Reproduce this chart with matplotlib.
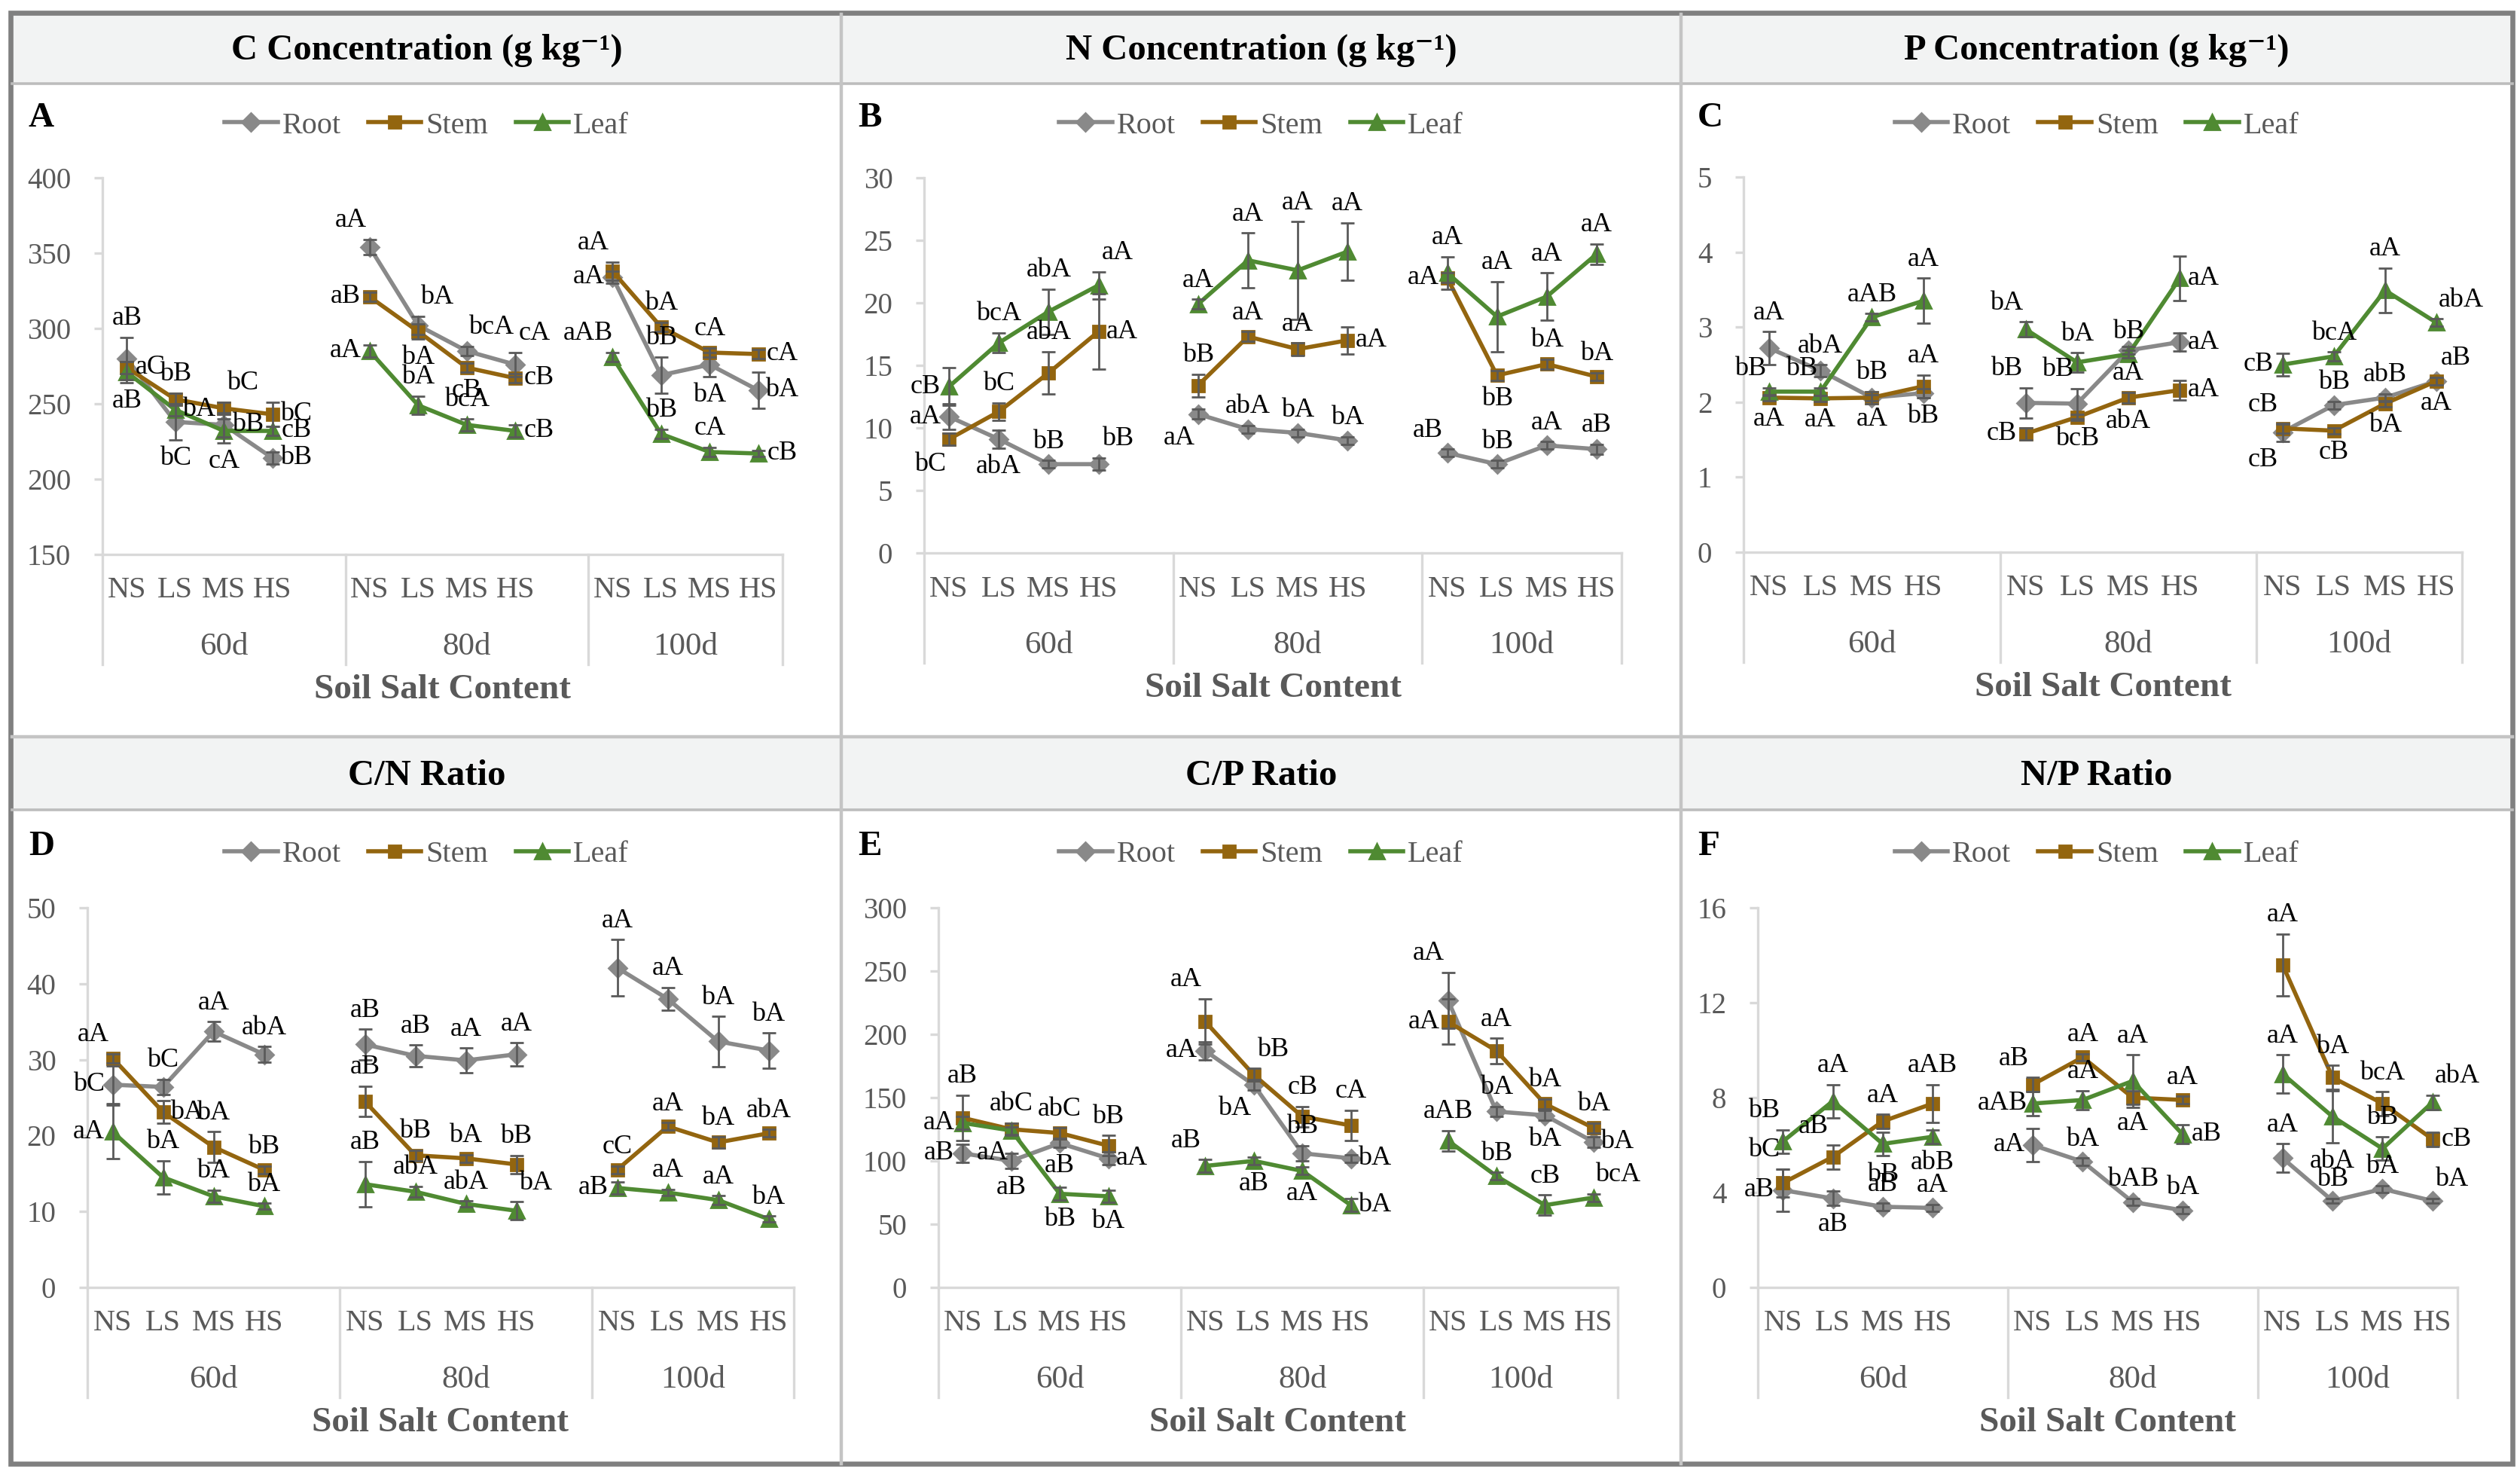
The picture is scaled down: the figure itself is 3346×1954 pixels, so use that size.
import numpy as np
import matplotlib.pyplot as plt
from matplotlib.patches import Rectangle

plt.rcParams['font.family'] = ['Liberation Serif', 'DejaVu Serif']

#########
# data  #
#########
days = ['60d', '80d', '100d']
salts = ['NS', 'LS', 'MS', 'HS']
organs = ['Root', 'Stem', 'Leaf']

# A : C concentration (g kg-1)
c_root = [280, 238, 236, 214, 354, 302, 285, 276, 334, 269, 276, 259]
c_stem = [274, 253, 247, 243, 321, 298, 274, 267, 338, 301, 284, 283]
c_leaf = [271, 246, 232, 232, 285, 249, 236, 232, 281, 230, 218, 217]
c_root_err = [14, 12, 8, 4, 5, 6, 3, 8, 4, 12, 8, 12]
c_stem_err = [4, 4, 4, 8, 3, 5, 3, 3, 6, 3, 3, 3]
c_leaf_err = [7, 4, 8, 3, 4, 6, 4, 4, 3, 3, 3, 2]
c_root_lab = ['aB', 'bC', 'bB', 'bB', 'aA', 'bA', 'bcA', 'cA', 'aA', 'bB', 'bA', 'bA']
c_stem_lab = ['aC', 'bB', 'bC', 'bC', 'aB', 'bA', 'cB', 'cB', 'aA', 'bA', 'cA', 'cA']
c_leaf_lab = ['aB', 'bA', 'cA', 'cB', 'aA', 'bA', 'bcA', 'cB', 'aAB', 'bB', 'cA', 'cB']

# B : N concentration (g kg-1)
n_root = [10.9, 9.1, 7.1, 7.1, 11.1, 9.9, 9.6, 9.0, 8.0, 7.1, 8.6, 8.3]
n_stem = [9.1, 11.3, 14.4, 17.7, 13.4, 17.3, 16.3, 17.0, 22.0, 14.2, 15.1, 14.1]
n_leaf = [13.3, 16.8, 19.3, 21.4, 19.9, 23.4, 22.6, 24.1, 22.4, 18.9, 20.5, 23.9]
n_root_err = [1.0, 0.7, 0.3, 0.5, 0.4, 0.3, 0.3, 0.3, 0.3, 0.3, 0.3, 0.4]
n_stem_err = [0.5, 0.7, 1.7, 3.0, 0.9, 0.4, 0.5, 1.1, 0.4, 0.4, 0.4, 0.3]
n_leaf_err = [1.5, 0.8, 1.8, 1.1, 0.4, 2.2, 3.9, 2.3, 1.3, 2.8, 1.9, 0.8]
n_root_lab = ['aA', 'abA', 'bB', 'bB', 'aA', 'abA', 'bA', 'bA', 'aB', 'bB', 'aA', 'aB']
n_stem_lab = ['bC', 'bC', 'abA', 'aA', 'bB', 'aA', 'aA', 'aA', 'aA', 'bB', 'bA', 'bA']
n_leaf_lab = ['cB', 'bcA', 'abA', 'aA', 'aA', 'aA', 'aA', 'aA', 'aA', 'aA', 'aA', 'aA']

# C : P concentration (g kg-1)
p_root = [2.72, 2.42, 2.06, 2.12, 1.99, 1.98, 2.69, 2.80, 1.60, 1.96, 2.06, 2.28]
p_stem = [2.06, 2.05, 2.06, 2.21, 1.58, 1.80, 2.06, 2.16, 1.65, 1.62, 1.98, 2.28]
p_leaf = [2.14, 2.14, 3.13, 3.35, 2.97, 2.53, 2.64, 3.65, 2.50, 2.61, 3.49, 3.06]
p_root_err = [0.22, 0.08, 0.08, 0.06, 0.2, 0.2, 0.05, 0.12, 0.12, 0.05, 0.05, 0.05]
p_stem_err = [0.04, 0.04, 0.04, 0.15, 0.08, 0.04, 0.07, 0.13, 0.06, 0.04, 0.04, 0.05]
p_leaf_err = [0.05, 0.05, 0.05, 0.3, 0.1, 0.13, 0.05, 0.3, 0.15, 0.06, 0.3, 0.05]
p_root_lab = ['aA', 'abA', 'bB', 'bB', 'bB', 'bB', 'aA', 'aA', 'cB', 'bB', 'abB', 'aB']
p_stem_lab = ['aA', 'aA', 'aA', 'aA', 'cB', 'bcB', 'abA', 'aA', 'cB', 'cB', 'bA', 'aA']
p_leaf_lab = ['bB', 'bB', 'aAB', 'aA', 'bA', 'bA', 'bB', 'aA', 'cB', 'bcA', 'aA', 'abA']

# D : C/N ratio
cn_root = [26.7, 26.4, 33.7, 30.7, 32.0, 30.5, 29.9, 30.7, 42.1, 38.0, 32.4, 31.2]
cn_stem = [30.2, 23.1, 18.5, 15.5, 24.5, 17.4, 17.0, 16.2, 15.5, 21.2, 19.1, 20.3]
cn_leaf = [20.5, 14.5, 12.0, 10.7, 13.6, 12.6, 11.0, 10.1, 13.1, 12.5, 11.5, 9.0]
cn_root_err = [2.5, 1.0, 1.3, 1.0, 2.0, 1.4, 1.6, 1.5, 3.7, 1.5, 3.3, 2.3]
cn_stem_err = [0.6, 1.5, 2.0, 0.5, 2.0, 0.7, 0.5, 1.2, 0.5, 0.5, 0.7, 0.5]
cn_leaf_err = [3.5, 2.2, 0.8, 0.4, 3.0, 0.7, 0.4, 1.2, 0.8, 0.4, 0.6, 0.4]
cn_root_lab = ['bC', 'bC', 'aA', 'abA', 'aB', 'aB', 'aA', 'aA', 'aA', 'aA', 'bA', 'bA']
cn_stem_lab = ['aA', 'bA', 'bA', 'bB', 'aB', 'bB', 'bA', 'bB', 'cC', 'aA', 'bA', 'abA']
cn_leaf_lab = ['aA', 'bA', 'bA', 'bA', 'aB', 'abA', 'abA', 'bA', 'aB', 'aA', 'aA', 'bA']

# E : C/P ratio
cp_root = [106, 100, 114, 102, 187, 160, 106, 102, 227, 139, 136, 115]
cp_stem = [134, 125, 122, 112, 210, 168, 135, 128, 210, 187, 145, 126]
cp_leaf = [130, 124, 74, 72, 96, 100, 92, 65, 116, 88, 65, 71]
cp_root_err = [7, 6, 3, 5, 7, 4, 6, 3, 22, 4, 4, 4]
cp_stem_err = [18, 5, 4, 8, 18, 5, 8, 12, 18, 10, 4, 4]
cp_leaf_err = [5, 3, 5, 5, 5, 3, 3, 5, 8, 3, 8, 3]
cp_root_lab = ['aB', 'aB', 'aB', 'aA', 'aA', 'bA', 'bB', 'bA', 'aA', 'bA', 'bA', 'bA']
cp_stem_lab = ['aB', 'abC', 'abC', 'bB', 'aA', 'bB', 'cB', 'cA', 'aA', 'aA', 'bA', 'bA']
cp_leaf_lab = ['aA', 'aA', 'bB', 'bA', 'aB', 'aB', 'aA', 'bA', 'aAB', 'bB', 'cB', 'bcA']

# F : N/P ratio
np_root = [4.1, 3.75, 3.4, 3.35, 6.0, 5.3, 3.6, 3.25, 5.45, 3.65, 4.15, 3.65]
np_stem = [4.4, 5.5, 7.0, 7.75, 8.55, 9.7, 8.0, 7.9, 13.6, 8.85, 7.75, 6.25]
np_leaf = [6.15, 7.85, 6.05, 6.35, 7.75, 7.9, 8.7, 6.45, 9.0, 7.2, 5.85, 7.8]
np_root_err = [0.9, 0.3, 0.15, 0.15, 0.7, 0.15, 0.15, 0.15, 0.6, 0.1, 0.15, 0.1]
np_stem_err = [0.6, 0.5, 0.3, 0.8, 0.3, 0.15, 0.3, 0.15, 1.3, 0.5, 0.5, 0.3]
np_leaf_err = [0.5, 0.7, 0.5, 0.3, 0.5, 0.4, 1.1, 0.4, 0.8, 1.1, 0.5, 0.3]
np_root_lab = ['aB', 'aB', 'aB', 'aA', 'aA', 'bA', 'bAB', 'bA', 'aA', 'bB', 'bA', 'bA']
np_stem_lab = ['bC', 'aB', 'aA', 'aAB', 'aB', 'aA', 'aA', 'aA', 'aA', 'bA', 'bcA', 'cB']
np_leaf_lab = ['bB', 'aA', 'bB', 'abB', 'aAB', 'aA', 'aA', 'aB', 'aA', 'abA', 'bB', 'abA']

####################
# label placement  #
####################
c_pos = ['u d r r ul ur ur ur l u d r', 'r u ur r l d d r ul u u r', 'd r d r l u u r ul u u r']
n_pos = ['l d u ur dl u u u ul u u u', 'dl u u r u u u r l d u u', 'l u u ur u u u u u u u u']
p_pos = ['u u u d ul ul d r dl u u ur', 'd d d u l d d r ul d d d', 'ul ul u u ul u u r l u u ur']
cn_pos = ['l u u u u u u u u u u u', 'ul r u u u u u u u u u u', 'l u u u u u u ur l u u u']
cp_pos = ['l d d r l dl u r ul u d r', 'u u u u ul ur u u l u u u', 'l dl d d ul d d r u u u ur']
np_pos = ['l d u u l u u u u u u ur', 'ul ul u u ul u d u u u u r', 'ul u d d l u u r u d u ur']

##########
# layout #
##########
W, H, DPI = 3346, 1954, 200
colors = {'Root': '#898989', 'Stem': '#93650f', 'Leaf': '#4f8a32'}
markers = {'Root': ('D', 6), 'Stem': ('s', 6), 'Leaf': ('^', 7)}
txt_gray = '#595959'
ax_gray = '#d9d9d9'

fig = plt.figure(figsize=(W / DPI, H / DPI), dpi=DPI)
bg = fig.add_axes([0, 0, 1, 1], zorder=0)
bg.set_xlim(0, W)
bg.set_ylim(H, 0)
bg.axis('off')

col_edges = [16, 1117, 2232, 3336]
title_bars = [(19, 111), (980, 1075)]
for r in range(2):
    t0, t1 = title_bars[r]
    bg.add_patch(Rectangle((16, t0), 3320, t1 - t0, facecolor='#f2f3f3', edgecolor='none'))
    bg.plot([16, 3336], [t1, t1], color='#bdbdbd', lw=1.3)
for x in col_edges[1:3]:
    bg.plot([x, x], [19, 1943], color='#c4c4c4', lw=1.6)
bg.plot([16, 3336], [978, 978], color='#c4c4c4', lw=1.6)
bg.add_patch(Rectangle((14, 17), 3322, 1926, facecolor='none', edgecolor='#808080', lw=2.4))


def px_axes(l, r, t, b):
    return [l / W, 1 - b / H, (r - l) / W, (b - t) / H]


xpos = [g * 5 + i for g in range(3) for i in range(4)]


def draw_panel(k, title, letter, vals, errs, labs, pos, ylim, ystep, box):
    row, col = divmod(k, 3)
    l, r, t, b = box
    cx = (col_edges[col] + col_edges[col + 1]) / 2
    tb = title_bars[row]
    bg.text(cx, (tb[0] + tb[1]) / 2 + 2, title, ha='center', va='center',
            fontsize=17.5, fontweight='bold', color='black')
    ly = 157 if row == 0 else 1124
    bg.text(col_edges[col] + 22, ly, letter, ha='left', va='center',
            fontsize=17, fontweight='bold', color='black')

    ax = fig.add_axes(px_axes(l, r, t, b), zorder=2)
    ax.patch.set_alpha(0)
    for name, v, e, lb, ps in zip(organs, vals, errs, labs, pos):
        v = np.array(v, float)
        e = np.array(e, float)
        codes = ps.split()
        m, ms = markers[name]
        for g in range(3):
            sl = slice(g * 4, g * 4 + 4)
            ax.plot(xpos[sl], v[sl], color=colors[name], lw=2.0, marker=m, ms=ms,
                    label=name if g == 0 else None, zorder=3)
        ax.errorbar(xpos, v, yerr=e, fmt='none', ecolor='#5a5a5a', elinewidth=1.0,
                    capsize=3.2, capthick=1.0, zorder=4)
        # significance letters
        for x, y, er, s, c in zip(xpos, v, e, lb, codes):
            h = 5 + 3.2 * len(s)
            dx, dy, yy = 0, 0, y
            if 'u' in c:
                dy, yy = 9, y + er
            if 'd' in c:
                dy, yy = -9, y - er
            if 'l' in c:
                dx = -h
            if 'r' in c:
                dx = h
            if len(c) == 2:
                dx *= 0.8
            ax.annotate(s, (x, yy), xytext=(dx, dy), textcoords='offset points',
                        ha='center', va='center', fontsize=13, color='black', zorder=5)

    ax.set_xlim(-0.5, 13.5)
    ax.set_ylim(*ylim)
    ax.set_yticks(np.arange(ylim[0], ylim[1] + ystep / 2, ystep))
    ax.set_xticks([])
    for sp in ['top', 'right']:
        ax.spines[sp].set_visible(False)
    for sp in ['left', 'bottom']:
        ax.spines[sp].set_color(ax_gray)
        ax.spines[sp].set_linewidth(1.2)
    ax.tick_params(axis='y', colors=ax_gray, labelcolor=txt_gray, labelsize=14,
                   length=4, width=1.2, pad=11)

    # two-level category axis
    hpx = b - t
    tr = ax.get_xaxis_transform()
    for sx in [-0.5, 4.5, 9.5, 13.5]:
        ax.plot([sx, sx], [0, -146 / hpx], color=ax_gray, lw=1.2, transform=tr, clip_on=False)
    for x, s in zip(xpos, salts * 3):
        ax.text(x, -48 / hpx, s, transform=tr, ha='center', va='center',
                fontsize=14.5, color=txt_gray)
    for cxg, d in zip([2, 7, 11.5], days):
        ax.text(cxg, -123 / hpx, d, transform=tr, ha='center', va='center',
                fontsize=15.5, color=txt_gray)
    ax.text(6.5, -180 / hpx, 'Soil Salt Content', transform=tr, ha='center', va='center',
            fontsize=17, fontweight='bold', color=txt_gray)

    leg = ax.legend(loc='center', bbox_to_anchor=(cx / W, 1 - (ly + 10) / H),
                    bbox_transform=fig.transFigure, ncol=3, frameon=False,
                    fontsize=14.5, handlelength=1.75, handletextpad=0.15,
                    columnspacing=0.9, borderpad=0)
    for tx in leg.get_texts():
        tx.set_color(txt_gray)
    return ax


kg = ' (g kg\u207b\u00b9)'
draw_panel(0, 'C Concentration' + kg, 'A', [c_root, c_stem, c_leaf],
           [c_root_err, c_stem_err, c_leaf_err], [c_root_lab, c_stem_lab, c_leaf_lab],
           c_pos, (150, 400), 50, (136, 1039, 236, 736))
draw_panel(1, 'N Concentration' + kg, 'B', [n_root, n_stem, n_leaf],
           [n_root_err, n_stem_err, n_leaf_err], [n_root_lab, n_stem_lab, n_leaf_lab],
           n_pos, (0, 30), 5, (1227, 2153, 236, 734))
draw_panel(2, 'P Concentration' + kg, 'C', [p_root, p_stem, p_leaf],
           [p_root_err, p_stem_err, p_leaf_err], [p_root_lab, p_stem_lab, p_leaf_lab],
           p_pos, (0, 5), 1, (2315, 3269, 235, 733))
draw_panel(3, 'C/N Ratio', 'D', [cn_root, cn_stem, cn_leaf],
           [cn_root_err, cn_stem_err, cn_leaf_err], [cn_root_lab, cn_stem_lab, cn_leaf_lab],
           cn_pos, (0, 50), 10, (116, 1054, 1205, 1709))
draw_panel(4, 'C/P Ratio', 'E', [cp_root, cp_stem, cp_leaf],
           [cp_root_err, cp_stem_err, cp_leaf_err], [cp_root_lab, cp_stem_lab, cp_leaf_lab],
           cp_pos, (0, 300), 50, (1246, 2148, 1205, 1709))
draw_panel(5, 'N/P Ratio', 'F', [np_root, np_stem, np_leaf],
           [np_root_err, np_stem_err, np_leaf_err], [np_root_lab, np_stem_lab, np_leaf_lab],
           np_pos, (0, 16), 4, (2334, 3263, 1205, 1709))

fig.savefig('out.png', dpi=DPI)
